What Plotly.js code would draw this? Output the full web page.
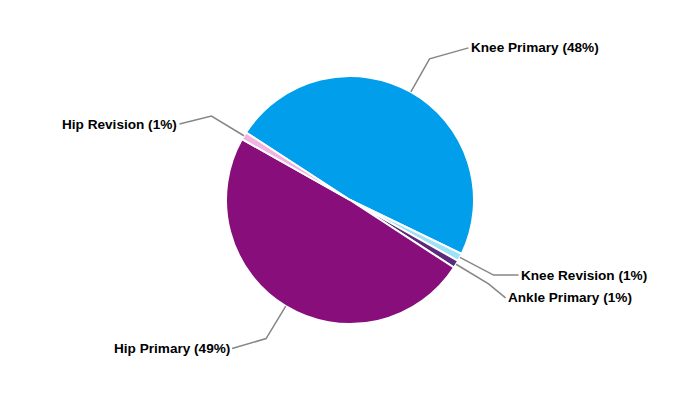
<!DOCTYPE html>
<html>
<head>
<meta charset="utf-8">
<script src="https://cdn.plot.ly/plotly-3.0.1.min.js"></script>
<style>html,body{margin:0;padding:0;background:#fff;}#chart{width:700px;height:400px;}</style>
</head>
<body>
<div id="chart"></div>
<script>
// ---- data ----
var categories = ["Knee Primary", "Knee Revision", "Ankle Primary", "Hip Primary", "Hip Revision"];
var values = [48, 1, 1, 49, 1];
var colors = ["#009EEB", "#9FE1F8", "#5B2A7C", "#870E7B", "#F2B3E2"];

// ---- layout config (not data) ----
var W = 700, H = 400, M = {l: 0, r: 0, t: 76, b: 76};
var rotationDeg = -57;
// label nudges relative to leader elbow: [dx, dy] in px
var labelNudge = [[39, -11], [25, 0], [17, 14], [-34, 10], [-32, 8]];

var plotH = H - M.t - M.b, plotW = W - M.l - M.r;
var R = Math.min(plotH, plotW) / 2;
var cx = M.l + plotW / 2, cy = M.t + plotH / 2;
function toPaper(px, py) { return [(px - M.l) / plotW, 1 - (py - M.t) / plotH]; }

var total = values.reduce(function (a, b) { return a + b; }, 0);
var shapes = [], annotations = [];
var start = rotationDeg;
for (var i = 0; i < values.length; i++) {
  var span = values[i] / total * 360;
  var mid = (start + span / 2) * Math.PI / 180;
  start += span;
  var p0 = [cx + R * Math.sin(mid), cy - R * Math.cos(mid)];
  var p1 = [cx + (R + 38) * Math.sin(mid), cy - (R + 38) * Math.cos(mid)];
  var p2 = [p1[0] + labelNudge[i][0], p1[1] + labelNudge[i][1]];
  var a = toPaper(p0[0], p0[1]), b = toPaper(p1[0], p1[1]), c = toPaper(p2[0], p2[1]);
  shapes.push({type: "path", xref: "paper", yref: "paper",
    path: "M" + a[0] + "," + a[1] + " L" + b[0] + "," + b[1] + " L" + c[0] + "," + c[1],
    line: {color: "#868686", width: 1.5}});
  var pct = Math.round(values[i] / total * 100);
  annotations.push({xref: "paper", yref: "paper", x: c[0], y: c[1],
    xanchor: labelNudge[i][0] > 0 ? "left" : "right", yanchor: "middle",
    text: "<b>" + categories[i] + " (" + pct + "%)</b>", showarrow: false,
    font: {family: "Liberation Sans, Arial, sans-serif", size: 13.6, color: "#000"},
    borderpad: 0, xshift: labelNudge[i][0] > 0 ? 1 : -1});
}

var trace = {
  type: "pie",
  labels: categories,
  values: values,
  sort: false,
  direction: "clockwise",
  rotation: rotationDeg,
  textinfo: "none",
  hoverinfo: "label+percent",
  marker: {colors: colors, line: {color: "#ffffff", width: 2}},
  domain: {x: [0, 1], y: [0, 1]}
};

var layout = {
  width: W, height: H,
  margin: M,
  showlegend: false,
  paper_bgcolor: "#ffffff",
  plot_bgcolor: "#ffffff",
  font: {family: "Liberation Sans, Arial, sans-serif", size: 12, color: "#000"},
  shapes: shapes,
  annotations: annotations
};

Plotly.newPlot("chart", [trace], layout, {displayModeBar: false, staticPlot: true});
</script>
</body>
</html>
